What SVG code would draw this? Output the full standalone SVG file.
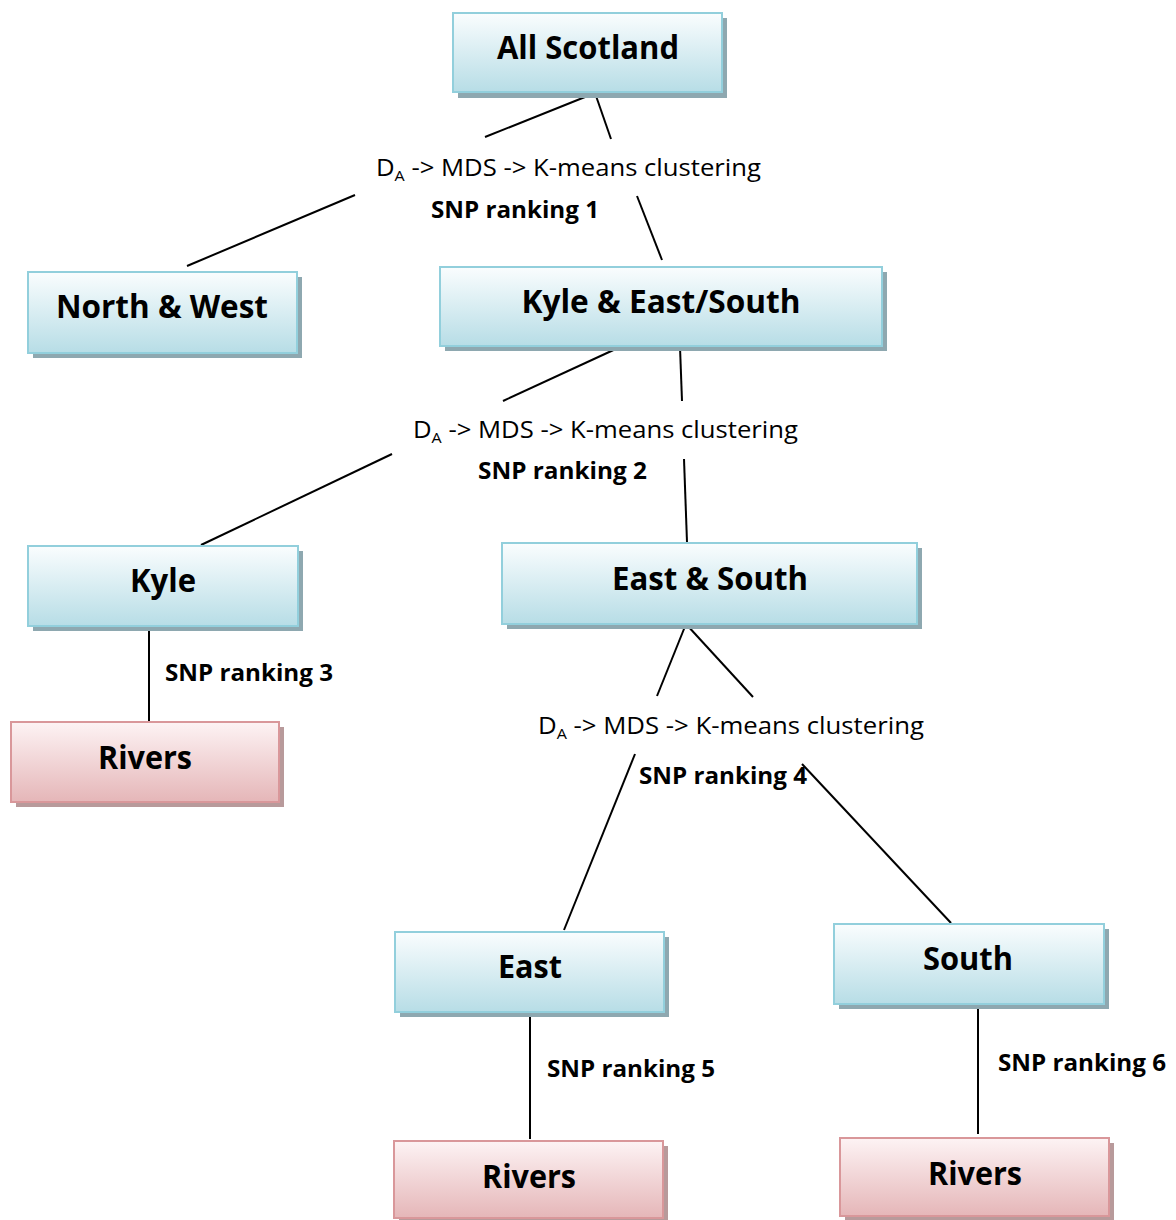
<svg xmlns="http://www.w3.org/2000/svg" width="1176" height="1220" viewBox="0 0 1176 1220">
<defs>
<linearGradient id="gb" x1="0" y1="0" x2="0" y2="1"><stop offset="0" stop-color="#fafdfe"/><stop offset="1" stop-color="#b7dde6"/></linearGradient>
<linearGradient id="gp" x1="0" y1="0" x2="0" y2="1"><stop offset="0" stop-color="#fdf3f4"/><stop offset="1" stop-color="#e5b6b8"/></linearGradient>
<style>
.bs{fill:#8ea8b0}
.ps{fill:#b89a9b}
.bb{fill:url(#gb);stroke:#92cfdc;stroke-width:2}
.pb{fill:url(#gp);stroke:#d9979a;stroke-width:2}
.t{font-family:"Open Sans","Noto Sans",sans-serif;font-weight:bold;font-size:33px;text-anchor:middle;fill:#000}
.m{font-family:"Open Sans","Noto Sans",sans-serif;font-size:24px;fill:#000}
.s{font-family:"Open Sans","Noto Sans",sans-serif;font-size:23px;font-weight:bold;fill:#000}
.c line{stroke:#000;stroke-width:2}
</style>
</defs>
<rect width="1176" height="1220" fill="#fff"/>
<g class="c" id="connectors">
<line x1="485" y1="137" x2="595" y2="93"/>
<line x1="595" y1="93" x2="611" y2="139"/>
<line x1="187" y1="266" x2="355" y2="195"/>
<line x1="637" y1="196" x2="662" y2="260"/>
<line x1="503" y1="401" x2="620" y2="347"/>
<line x1="680" y1="347" x2="682" y2="401"/>
<line x1="201" y1="545" x2="392" y2="454"/>
<line x1="684" y1="459" x2="687" y2="542"/>
<line x1="149" y1="627" x2="149" y2="721"/>
<line x1="686" y1="624" x2="657" y2="696"/>
<line x1="686" y1="624" x2="753" y2="697"/>
<line x1="635" y1="754" x2="564" y2="930"/>
<line x1="802" y1="764" x2="951" y2="923"/>
<line x1="530" y1="1013" x2="530" y2="1139"/>
<line x1="978" y1="1005" x2="978" y2="1134"/>
</g>
<g id="labels">
<text class="m" x="376" y="176" textLength="385" lengthAdjust="spacingAndGlyphs">D<tspan font-size="15" dy="5">A</tspan><tspan dy="-5"> -&gt; MDS -&gt; K-means clustering</tspan></text>
<text class="s" x="431" y="218" textLength="168" lengthAdjust="spacingAndGlyphs">SNP ranking 1</text>
<text class="m" x="413" y="438" textLength="385" lengthAdjust="spacingAndGlyphs">D<tspan font-size="15" dy="5">A</tspan><tspan dy="-5"> -&gt; MDS -&gt; K-means clustering</tspan></text>
<text class="s" x="478" y="479" textLength="169" lengthAdjust="spacingAndGlyphs">SNP ranking 2</text>
<text class="s" x="165" y="681" textLength="168" lengthAdjust="spacingAndGlyphs">SNP ranking 3</text>
<text class="m" x="538" y="734" textLength="386" lengthAdjust="spacingAndGlyphs">D<tspan font-size="15" dy="5">A</tspan><tspan dy="-5"> -&gt; MDS -&gt; K-means clustering</tspan></text>
<text class="s" x="639" y="784" textLength="168" lengthAdjust="spacingAndGlyphs">SNP ranking 4</text>
<text class="s" x="547" y="1077" textLength="168" lengthAdjust="spacingAndGlyphs">SNP ranking 5</text>
<text class="s" x="998" y="1071" textLength="168" lengthAdjust="spacingAndGlyphs">SNP ranking 6</text>
</g>
<g id="n-allscotland"><rect class="bs" x="458" y="18" width="269" height="80"/><rect class="bb" x="453" y="13" width="269" height="79"/><text class="t" x="588" y="59" textLength="182" lengthAdjust="spacingAndGlyphs">All Scotland</text></g>
<g id="n-northwest"><rect class="bs" x="33" y="277" width="269" height="81"/><rect class="bb" x="28" y="272" width="269" height="81"/><text class="t" x="162" y="318" textLength="212" lengthAdjust="spacingAndGlyphs">North &amp; West</text></g>
<g id="n-kyleeastsouth"><rect class="bs" x="445" y="272" width="442" height="79"/><rect class="bb" x="440" y="267" width="442" height="79"/><text class="t" x="661" y="313" textLength="279" lengthAdjust="spacingAndGlyphs">Kyle &amp; East/South</text></g>
<g id="n-kyle"><rect class="bs" x="33" y="551" width="270" height="80"/><rect class="bb" x="28" y="546" width="270" height="80"/><text class="t" x="163" y="592" textLength="66" lengthAdjust="spacingAndGlyphs">Kyle</text></g>
<g id="n-eastsouth"><rect class="bs" x="507" y="548" width="415" height="81"/><rect class="bb" x="502" y="543" width="415" height="81"/><text class="t" x="710" y="590" textLength="196" lengthAdjust="spacingAndGlyphs">East &amp; South</text></g>
<g id="n-rivers1"><rect class="ps" x="16" y="727" width="268" height="80"/><rect class="pb" x="11" y="722" width="268" height="80"/><text class="t" x="145" y="769" textLength="94" lengthAdjust="spacingAndGlyphs">Rivers</text></g>
<g id="n-east"><rect class="bs" x="400" y="937" width="269" height="80"/><rect class="bb" x="395" y="932" width="269" height="80"/><text class="t" x="530" y="978" textLength="64" lengthAdjust="spacingAndGlyphs">East</text></g>
<g id="n-south"><rect class="bs" x="839" y="929" width="270" height="80"/><rect class="bb" x="834" y="924" width="270" height="80"/><text class="t" x="968" y="970" textLength="90" lengthAdjust="spacingAndGlyphs">South</text></g>
<g id="n-rivers2"><rect class="ps" x="399" y="1146" width="269" height="77"/><rect class="pb" x="394" y="1141" width="269" height="77"/><text class="t" x="529" y="1188" textLength="94" lengthAdjust="spacingAndGlyphs">Rivers</text></g>
<g id="n-rivers3"><rect class="ps" x="845" y="1143" width="269" height="78"/><rect class="pb" x="840" y="1138" width="269" height="78"/><text class="t" x="975" y="1185" textLength="94" lengthAdjust="spacingAndGlyphs">Rivers</text></g>
</svg>
